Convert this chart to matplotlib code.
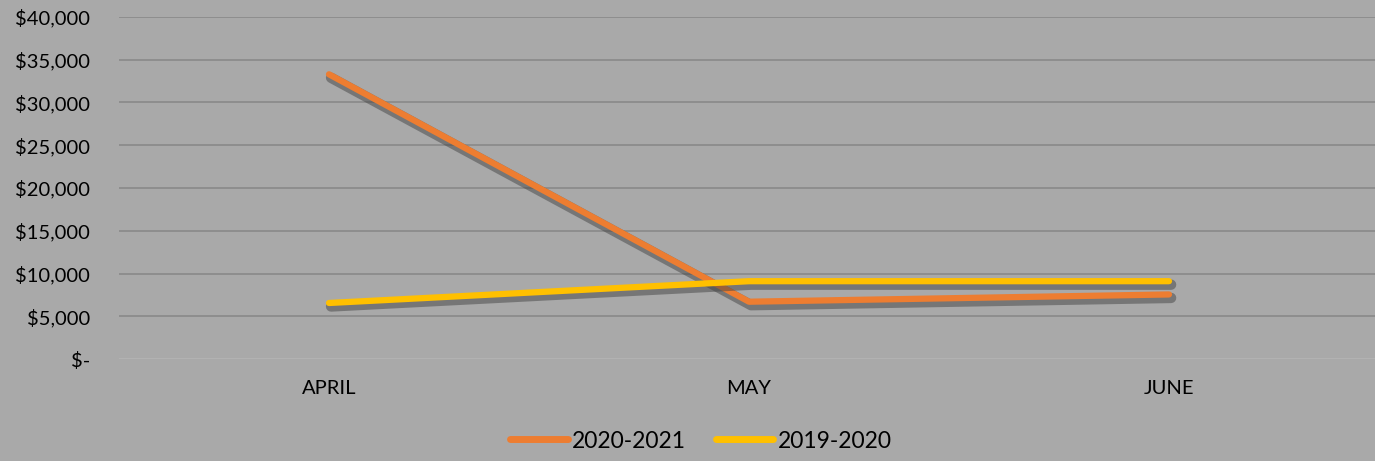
import matplotlib
matplotlib.use("Agg")
import matplotlib.pyplot as plt
import matplotlib.patheffects as pe
from matplotlib.ticker import FuncFormatter

months = ["APRIL", "MAY", "JUNE"]
sales_2020_2021 = [33300, 6700, 7550]
sales_2019_2020 = [6550, 9100, 9100]
yticks = [0, 5000, 10000, 15000, 20000, 25000, 30000, 35000, 40000]

plt.rcParams['font.family'] = ['Lato', 'DejaVu Sans']
bg = '#a9a9a9'

fig = plt.figure(figsize=(13.75, 4.61), dpi=100, facecolor=bg)
ax = fig.add_axes([119 / 1375, 1 - 359 / 461, 1260 / 1375, 342 / 461], facecolor=bg)

shadow = [pe.SimpleLineShadow(offset=(1.5, -2.5), shadow_color='#444444', alpha=0.5, linewidth=7.5), pe.Normal()]
x = range(len(months))
ax.plot(x, sales_2020_2021, color='#ed7d31', lw=4.5, solid_capstyle='round',
        solid_joinstyle='round', label='2020-2021', path_effects=shadow, zorder=3)
ax.plot(x, sales_2019_2020, color='#ffc000', lw=4.5, solid_capstyle='round',
        solid_joinstyle='round', label='2019-2020', path_effects=shadow, zorder=4)

ax.set_xlim(-0.5, 2.5)
ax.set_ylim(0, 40000)
ax.set_xticks(list(x))
ax.set_xticklabels(months)
ax.set_yticks(yticks)
ax.yaxis.set_major_formatter(FuncFormatter(lambda v, p: '$-' if v == 0 else '${:,.0f}'.format(v)))
ax.tick_params(length=0, labelsize=14.5, colors='black')
ax.tick_params(axis='x', pad=15)
ax.tick_params(axis='y', pad=21)
for lab in ax.get_yticklabels():
    lab.set_horizontalalignment('right')

for v in yticks[1:]:
    ax.axhline(v, color='#8c8c8c', lw=1.3, zorder=1)
ax.axhline(0, color='#b3b3b3', lw=1.3, zorder=1)
for s in ax.spines.values():
    s.set_visible(False)

leg = fig.legend(loc='center', bbox_to_anchor=(701 / 1375, 1 - 441 / 461), ncol=2, frameon=False,
                 fontsize=16.5, handlelength=2.5, handletextpad=0.2, columnspacing=1.3)
for h in leg.get_lines():
    h.set_path_effects([])
    h.set_linewidth(5)
    h.set_solid_capstyle('round')

fig.savefig('out.png', dpi=100, facecolor=bg)
